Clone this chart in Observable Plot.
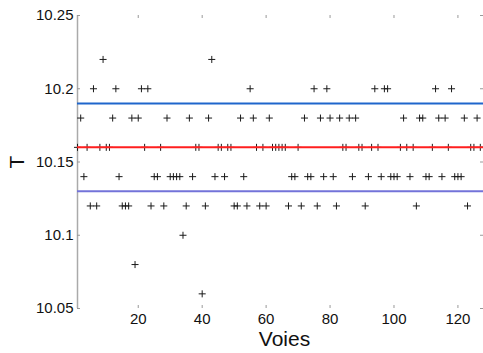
<!DOCTYPE html>
<html><head><meta charset="utf-8">
<script src="https://cdn.jsdelivr.net/npm/d3@7"></script>
<script src="https://cdn.jsdelivr.net/npm/@observablehq/plot@0.6"></script>
<style>body{margin:0;background:#fff}#chart svg{display:block}</style>
</head><body><div id="chart"></div>
<script>
// Temperature per channel (voies 1..128)
const temperatures = [
  10.16,10.18,10.14,10.16,10.12,10.20,10.12,10.16,10.22,10.16,
  10.16,10.18,10.20,10.14,10.12,10.12,10.12,10.18,10.08,10.18,
  10.20,10.16,10.20,10.12,10.14,10.14,10.16,10.12,10.18,10.14,
  10.14,10.14,10.14,10.10,10.12,10.18,10.14,10.16,10.16,10.06,
  10.12,10.18,10.22,10.14,10.16,10.16,10.14,10.16,10.16,10.12,
  10.12,10.18,10.14,10.12,10.20,10.18,10.16,10.12,10.16,10.12,
  10.18,10.16,10.16,10.16,10.16,10.16,10.12,10.14,10.14,10.16,
  10.12,10.18,10.14,10.14,10.20,10.12,10.18,10.14,10.20,10.18,
  10.14,10.12,10.18,10.16,10.16,10.18,10.14,10.18,10.16,10.16,
  10.12,10.14,10.16,10.20,10.16,10.14,10.20,10.20,10.14,10.14,
  10.14,10.16,10.18,10.16,10.14,10.16,10.12,10.18,10.18,10.14,
  10.14,10.16,10.20,10.18,10.14,10.18,10.16,10.20,10.14,10.14,
  10.14,10.18,10.12,10.16,10.16,10.18,10.16,10.16
];
const voies = temperatures.map((_, i) => i + 1);
// Reference lines: mean + std, mean, mean - std
const refLevels = [10.19, 10.16, 10.13];
const refColors = ["#1f66cc", "#ff1f1f", "#7373d9"];
const xTicks = [20, 40, 60, 80, 100, 120];
const yTicks = [10.05, 10.1, 10.15, 10.2, 10.25];
const yTickLabels = ["10.05", "10.1", "10.15", "10.2", "10.25"];
const xDomain = [1, 128];
const yDomain = [10.05, 10.25];

const points = voies.map((v, i) => ({voie: v, t: temperatures[i]}));
const refs = refLevels.map((y, i) => ({y, color: refColors[i]}));

const chart = Plot.plot({
  width: 483,
  height: 353,
  marginLeft: 77,
  marginRight: 0,
  marginTop: 15,
  marginBottom: 45,
  style: {fontFamily: "'Liberation Sans', Arial, sans-serif", background: "#fff", color: "#111"},
  x: {domain: xDomain},
  y: {domain: yDomain},
  marks: [
    Plot.axisX(xTicks, {tickSize: 0, tickPadding: 5, fontSize: 15, label: null, fill: "#111"}),
    Plot.axisY(yTicks, {tickSize: 0, tickPadding: 4, fontSize: 15, label: null, fill: "#111",
      tickFormat: (d) => yTickLabels[yTicks.indexOf(d)]}),
    Plot.ruleX([xDomain[0]], {stroke: "#aaaaaa", strokeWidth: 1.5}),
    // inner tick marks
    Plot.tickY(yTicks, {y: (d) => d, insetRight: 403, stroke: "#999"}),
    Plot.tickY(yTicks, {y: (d) => d, insetLeft: 403, stroke: "#999"}),
    Plot.tickX(xTicks, {x: (d) => d, insetTop: 290, stroke: "#999"}),
    Plot.tickX(xTicks, {x: (d) => d, insetBottom: 290, stroke: "#999"}),
    Plot.dot(points, {x: "voie", y: "t", symbol: "plus", r: 2.4, stroke: "#1a1a1a", strokeWidth: 1}),
    Plot.ruleY(refs, {y: "y", stroke: "color", strokeWidth: 2}),
    Plot.text(["Voies"], {frameAnchor: "bottom", dx: 4, dy: 31, fontSize: 21, fill: "#111", lineAnchor: "middle", textAnchor: "middle"}),
    Plot.text(["T"], {frameAnchor: "left", dx: -60, rotate: -90, fontSize: 21, fill: "#111", lineAnchor: "middle", textAnchor: "middle"})
  ]
});
document.getElementById("chart").append(chart);
</script>
</body></html>
